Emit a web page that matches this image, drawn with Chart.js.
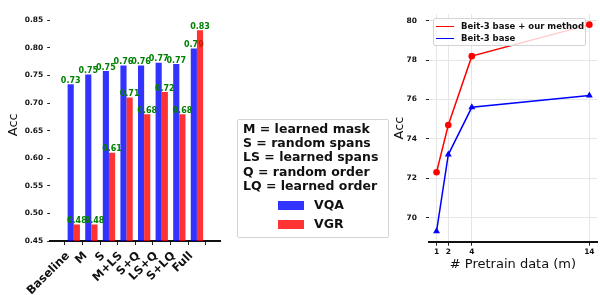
<!DOCTYPE html>
<html>
<head>
<meta charset="utf-8">
<script src="https://cdn.jsdelivr.net/npm/chart.js@4.4.1/dist/chart.umd.min.js"></script>
<style>
    body { margin: 0; width: 600px; height: 295px; overflow: hidden; background: #fff; position: relative; font-family: "DejaVu Sans", sans-serif; }
    .wrap { position: absolute; top: 0; height: 295px; }
    #leftWrap { left: 0; width: 230px; }
    #rightWrap { left: 380px; width: 221px; }
    #keyBox {
        position: absolute; left: 237px; top: 119px; width: 145px; height: 115px;
        border: 1px solid #d4d4d4; border-radius: 2px; background: rgba(255,255,255,0.8);
        font-weight: bold; font-size: 12.5px; line-height: 14.2px; color: #111;
        padding: 2px 0 0 5px; box-sizing: content-box;
    }
    #keyBox .row { white-space: nowrap; }
    #keyBox .item { position: absolute; left: 40px; height: 19px; display: flex; align-items: center; }
    #keyBox .patch { width: 26px; height: 9px; margin-right: 10px; }
    #lineKey {
        position: absolute; left: 433px; top: 18px; width: 151px; height: 26px;
        border: 1px solid #d4d4d4; border-radius: 2px; background: rgba(255,255,255,0.8);
        font-weight: bold; font-size: 8.5px; color: #111;
    }
    #lineKey .item { position: absolute; left: 2px; display: flex; align-items: center; height: 12px; white-space: nowrap; }
    #lineKey .swatch { width: 18px; height: 0; border-top: 1.5px solid; margin-right: 7px; }
</style>
</head>
<body>
<div class="wrap" id="leftWrap"><canvas id="barChart"></canvas></div>
<div class="wrap" id="rightWrap"><canvas id="lineChart"></canvas></div>
<div id="keyBox"></div>
<div id="lineKey"></div>
<script>
const FONT = '"DejaVu Sans", sans-serif';

// left chart: ablation
const categories = ['Baseline', 'M', 'S', 'M+LS', 'S+Q', 'LS+Q', 'S+LQ', 'Full'];
const barSeries = ['VQA', 'VGR'];
const vqaAcc = [0.734, 0.752, 0.758, 0.768, 0.768, 0.773, 0.771, 0.799];
const vgrAcc = [0.48, 0.48, 0.61, 0.71, 0.68, 0.72, 0.68, 0.832];
const barTicks = [0.45, 0.50, 0.55, 0.60, 0.65, 0.70, 0.75, 0.80, 0.85];
const abbreviations = ['M = learned mask', 'S = random spans', 'LS = learned spans', 'Q = random order', 'LQ = learned order'];

// right chart: pretraining data
const pretrainData = [1, 2, 4, 14];
const lineSeries = ['Beit-3 base + our method', 'Beit-3 base'];
const oursAcc = [72.3, 74.7, 78.2, 79.8];
const baseAcc = [69.3, 73.2, 75.6, 76.2];
const lineYTicks = [70, 72, 74, 76, 78, 80];

const barColors = ['rgba(0, 0, 255, 0.8)', 'rgba(255, 0, 0, 0.8)'];
const lineColors = ['red', 'blue'];

function drawValues(chart, i) {
    const ctx = chart.ctx;
    const ds = chart.data.datasets[i];
    ctx.save();
    ctx.font = 'bold 8px ' + FONT;
    ctx.fillStyle = 'green';
    ctx.textAlign = 'center';
    ctx.textBaseline = 'bottom';
    chart.getDatasetMeta(i).data.forEach((bar, j) => {
        const v = Math.floor(ds.data[j].y * 100 + 1e-6) / 100;
        ctx.fillText(v.toFixed(2), bar.x, bar.y + 0.5);
    });
    ctx.restore();
}

// matplotlib order: VQA bars, VQA labels, VGR bars, VGR labels
const barLabels = {
    id: 'barLabels',
    beforeDatasetDraw(chart, args) {
        if (args.index === 1) return false;
    },
    afterDatasetsDraw(chart) {
        drawValues(chart, 0);
        const a = chart.chartArea;
        const ctx = chart.ctx;
        ctx.save();
        ctx.beginPath();
        ctx.rect(a.left, a.top, a.right - a.left, a.bottom - a.top);
        ctx.clip();
        chart.getDatasetMeta(1).controller.draw();
        ctx.restore();
        drawValues(chart, 1);
    }
};

// 45° category labels, right end just left of the tick (like ha='right')
const rotatedLabels = {
    id: 'rotatedLabels',
    afterDraw(chart) {
        const ctx = chart.ctx;
        const xs = chart.scales.x;
        ctx.save();
        ctx.font = 'bold 11.5px ' + FONT;
        ctx.fillStyle = '#111';
        ctx.textAlign = 'right';
        ctx.textBaseline = 'middle';
        categories.forEach((c, i) => {
            ctx.save();
            ctx.translate(xs.getPixelForValue(i) - 5.8, chart.chartArea.bottom + 13);
            ctx.rotate(-Math.PI / 4);
            ctx.fillText(c, 0, 0);
            ctx.restore();
        });
        ctx.restore();
    }
};

const tickFont = { family: FONT, weight: 'bold', size: 7.5 };

new Chart(document.getElementById('barChart'), {
    type: 'bar',
    data: {
        datasets: [
            { label: barSeries[0], data: vqaAcc.map((v, i) => ({ x: i, y: v })), backgroundColor: barColors[0] },
            { label: barSeries[1], data: vgrAcc.map((v, i) => ({ x: i, y: v })), backgroundColor: barColors[1] }
        ]
    },
    options: {
        responsive: true,
        maintainAspectRatio: false,
        animation: false,
        layout: { padding: { top: 2, right: 9.5, bottom: 0, left: 0 } },
        plugins: { legend: { display: false }, tooltip: { enabled: false } },
        datasets: { bar: { categoryPercentage: 0.7, barPercentage: 1, borderWidth: 0 } },
        scales: {
            x: {
                type: 'linear',
                min: -0.735,
                max: 7.735,
                afterBuildTicks: s => { s.ticks = categories.map((c, i) => ({ value: i })); },
                afterFit: s => { s.height = 54; },
                ticks: { display: false },
                grid: { display: true, drawOnChartArea: false, drawTicks: true, tickLength: 4, tickColor: '#222' },
                border: { display: true, color: '#111', width: 2 }
            },
            y: {
                min: 0.45,
                max: 0.8715,
                afterBuildTicks: s => { s.ticks = barTicks.map(v => ({ value: v })); },
                afterFit: s => { s.width = 50.2; },
                ticks: { color: '#111', font: tickFont, padding: 4, callback: v => v.toFixed(2) },
                grid: { display: true, drawOnChartArea: false, drawTicks: true, tickLength: 3, tickColor: '#222' },
                border: { display: false },
                title: { display: true, text: 'Acc', color: '#111', font: { family: FONT, size: 13 }, padding: { top: 6, bottom: 0 } }
            }
        }
    },
    plugins: [barLabels, rotatedLabels]
});

new Chart(document.getElementById('lineChart'), {
    type: 'line',
    data: {
        datasets: [
            {
                label: lineSeries[0], data: pretrainData.map((x, i) => ({ x: x, y: oursAcc[i] })),
                borderColor: lineColors[0], backgroundColor: lineColors[0], pointStyle: 'circle', pointRadius: 3.3
            },
            {
                label: lineSeries[1], data: pretrainData.map((x, i) => ({ x: x, y: baseAcc[i] })),
                borderColor: lineColors[1], backgroundColor: lineColors[1], pointStyle: 'triangle', pointRadius: 4
            }
        ]
    },
    options: {
        responsive: true,
        maintainAspectRatio: false,
        animation: false,
        layout: { padding: { top: 14.3, right: 0, bottom: 22.2, left: 0 } },
        plugins: { legend: { display: false }, tooltip: { enabled: false } },
        elements: { line: { borderWidth: 1.5, tension: 0 }, point: { borderWidth: 0 } },
        scales: {
            x: {
                type: 'linear',
                min: 0.35,
                max: 14.65,
                afterBuildTicks: s => { s.ticks = pretrainData.map(v => ({ value: v })); },
                afterFit: s => { s.height = 31.1; },
                ticks: { autoSkip: false, maxRotation: 0, color: '#111', font: tickFont, padding: 2 },
                grid: { color: '#e6e6e6', lineWidth: 1, drawTicks: true, tickLength: 4, tickColor: '#222' },
                border: { display: true, color: '#111', width: 2 },
                title: { display: true, text: '# Pretrain data (m)', color: '#111', font: { family: FONT, size: 13 }, padding: { top: 0, bottom: 0 } }
            },
            y: {
                min: 68.775,
                max: 80.325,
                afterBuildTicks: s => { s.ticks = lineYTicks.map(v => ({ value: v })); },
                afterFit: s => { s.width = 48.9; },
                ticks: { color: '#111', font: tickFont, padding: 9 },
                grid: { color: '#e6e6e6', lineWidth: 1, drawTicks: true, tickLength: 3, tickColor: '#222' },
                border: { display: false },
                title: { display: true, text: 'Acc', color: '#111', font: { family: FONT, size: 13 }, padding: { top: 12, bottom: 0 } }
            }
        }
    }
});

// legend boxes (built from the same names/colours)
const keyBox = document.getElementById('keyBox');
abbreviations.forEach(t => {
    const row = document.createElement('div');
    row.className = 'row';
    row.textContent = t;
    keyBox.appendChild(row);
});
barSeries.forEach((name, i) => {
    const item = document.createElement('div');
    item.className = 'item';
    item.style.top = (76 + i * 19) + 'px';
    item.innerHTML = '<span class="patch" style="background:' + barColors[i] + '"></span><span>' + name + '</span>';
    keyBox.appendChild(item);
});

const lineKey = document.getElementById('lineKey');
lineSeries.forEach((name, i) => {
    const item = document.createElement('div');
    item.className = 'item';
    item.style.top = (1 + i * 12.3) + 'px';
    item.innerHTML = '<span class="swatch" style="border-color:' + lineColors[i] + '"></span><span>' + name + '</span>';
    lineKey.appendChild(item);
});
</script>
</body>
</html>
